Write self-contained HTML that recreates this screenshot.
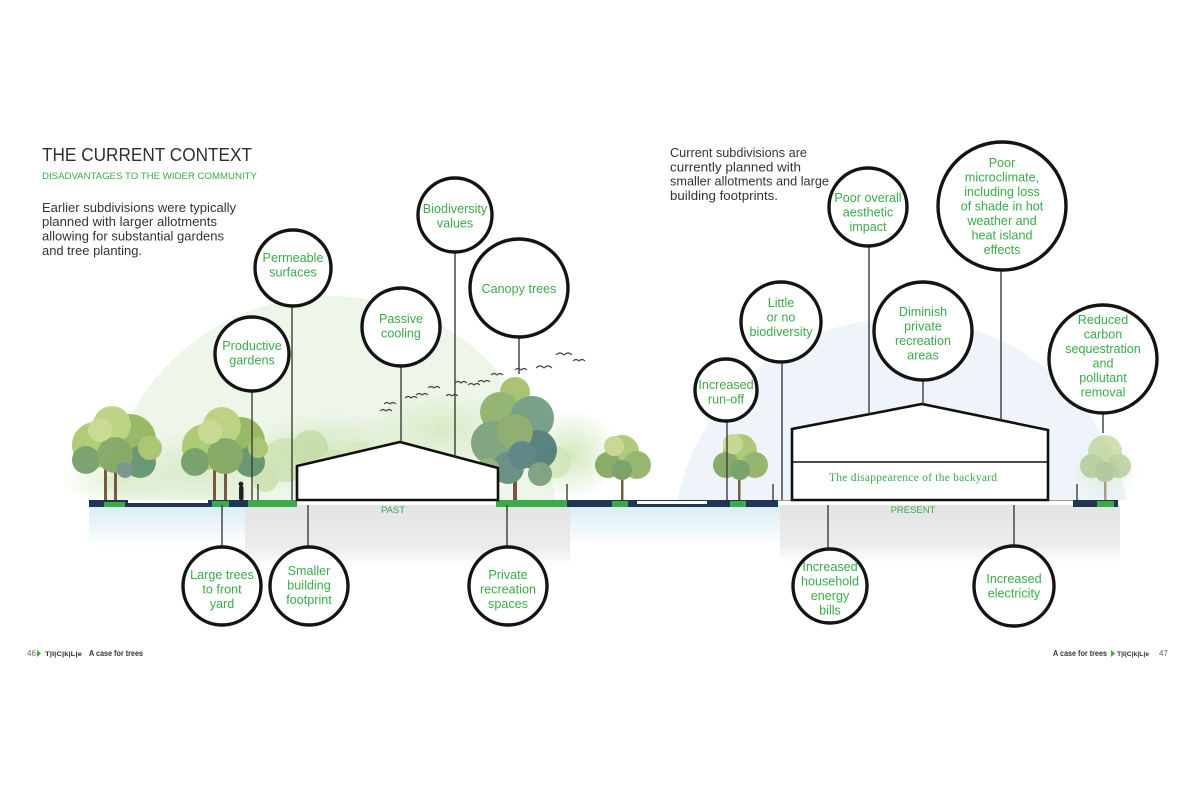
<!DOCTYPE html>
<html><head><meta charset="utf-8"><style>
html,body{margin:0;padding:0;background:#fff;}
svg{display:block;}
.c{fill:#fff;stroke:#141414;stroke-width:3.4;}
.t{font-family:"Liberation Sans",sans-serif;font-size:12.6px;fill:#3aab48;text-anchor:middle;}
.ln{stroke:#3c3c3c;stroke-width:1.4;}
.p{font-family:"Liberation Sans",sans-serif;font-size:12.8px;fill:#333;}
.bird{fill:none;stroke:#444;stroke-width:1.1;}
</style></head><body>
<svg width="1200" height="800" viewBox="0 0 1200 800" xmlns="http://www.w3.org/2000/svg">
<defs>
<linearGradient id="gb" x1="0" y1="0" x2="0" y2="1"><stop offset="0" stop-color="#d9ecf5"/><stop offset="1" stop-color="#d9ecf5" stop-opacity="0"/></linearGradient>
<linearGradient id="gg" x1="0" y1="0" x2="0" y2="1"><stop offset="0" stop-color="#e4e4e4"/><stop offset="0.7" stop-color="#ececec"/><stop offset="1" stop-color="#f2f2f2" stop-opacity="0"/></linearGradient>
<radialGradient id="gw" cx="0.5" cy="0.5" r="0.5"><stop offset="0" stop-color="#d3e8be"/><stop offset="1" stop-color="#d3e8be" stop-opacity="0"/></radialGradient>
<clipPath id="above"><rect x="0" y="0" width="1200" height="500"/></clipPath>
</defs>
<rect width="1200" height="800" fill="#fff"/>

<!-- background washes -->
<g clip-path="url(#above)">
<circle cx="330" cy="522" r="226" fill="#eef6ea"/>
<circle cx="902" cy="548" r="230" fill="#eef4fa"/>
<ellipse cx="200" cy="470" rx="90" ry="40" fill="url(#gw)" opacity="0.8"/>
<ellipse cx="330" cy="455" rx="90" ry="45" fill="url(#gw)"/>
<ellipse cx="440" cy="430" rx="80" ry="40" fill="url(#gw)" opacity="0.8"/>
<ellipse cx="570" cy="455" rx="50" ry="45" fill="url(#gw)"/>
<ellipse cx="120" cy="480" rx="60" ry="25" fill="url(#gw)" opacity="0.7"/>
<ellipse cx="1105" cy="470" rx="35" ry="35" fill="url(#gw)" opacity="0.5"/>
</g>

<!-- below ground -->
<rect x="89" y="505" width="160" height="42" fill="url(#gb)"/>
<rect x="245" y="505" width="325" height="62" fill="url(#gg)"/>
<rect x="570" y="505" width="210" height="40" fill="url(#gb)"/>
<rect x="780" y="505" width="340" height="58" fill="url(#gg)"/>

<!-- background light trees -->
<g opacity="0.7">
<circle cx="285" cy="460" r="22" fill="#c9dfae"/><circle cx="310" cy="448" r="18" fill="#bfd8a0"/><circle cx="335" cy="470" r="20" fill="#cfe3b8"/>
<circle cx="555" cy="462" r="16" fill="#cfe3b8"/><circle cx="360" cy="455" r="14" fill="#d5e8c0"/><circle cx="265" cy="478" r="14" fill="#c6dda8"/>
</g>

<!-- tree 1 -->
<g opacity="0.9">
<rect x="104" y="455" width="3" height="45" fill="#6b4a2f"/><rect x="114" y="458" width="3" height="42" fill="#6b4a2f"/>
<circle cx="95" cy="445" r="23" fill="#a9c76a"/><circle cx="130" cy="440" r="26" fill="#8fb45a"/>
<circle cx="112" cy="425" r="19" fill="#b8cf78"/><circle cx="86" cy="460" r="14" fill="#6f9a62"/>
<circle cx="140" cy="462" r="16" fill="#5f8f6a"/><circle cx="115" cy="455" r="18" fill="#7ea35c"/>
<circle cx="150" cy="448" r="12" fill="#a6c26a"/><circle cx="100" cy="430" r="12" fill="#c4d88a"/>
<circle cx="125" cy="470" r="8" fill="#6e8f8a"/>
</g>
<!-- tree 2 -->
<g opacity="0.9">
<rect x="213" y="455" width="3" height="45" fill="#6b4a2f"/><rect x="224" y="458" width="3" height="42" fill="#6b4a2f"/>
<circle cx="205" cy="447" r="23" fill="#a9c76a"/><circle cx="240" cy="442" r="25" fill="#8fb45a"/>
<circle cx="222" cy="426" r="19" fill="#b8cf78"/><circle cx="195" cy="462" r="14" fill="#6f9a62"/>
<circle cx="250" cy="462" r="15" fill="#5f8f6a"/><circle cx="225" cy="456" r="18" fill="#7ea35c"/>
<circle cx="258" cy="448" r="10" fill="#a6c26a"/><circle cx="210" cy="432" r="12" fill="#c4d88a"/>
</g>
<!-- person -->
<circle cx="241" cy="484" r="2.4" fill="#222"/><rect x="239" y="486" width="4.5" height="14" rx="1.5" fill="#222"/>

<!-- tall tree -->
<g opacity="0.92">
<rect x="513" y="455" width="4" height="45" fill="#6b4a2f"/>
<circle cx="515" cy="392" r="15" fill="#a3bf6a"/><circle cx="500" cy="412" r="20" fill="#8db06a"/>
<circle cx="532" cy="418" r="22" fill="#6f9a80"/><circle cx="493" cy="443" r="22" fill="#7aa07a"/>
<circle cx="537" cy="450" r="20" fill="#4e7a78"/><circle cx="515" cy="432" r="18" fill="#8aa86a"/>
<circle cx="508" cy="468" r="16" fill="#5f8a7e"/><circle cx="540" cy="474" r="12" fill="#7a9e7a"/>
<circle cx="488" cy="470" r="12" fill="#8bb070"/><circle cx="522" cy="455" r="14" fill="#557f80"/>
</g>
<!-- tree 622 -->
<g opacity="0.9">
<rect x="621" y="468" width="2.5" height="32" fill="#6b4a2f"/>
<circle cx="622" cy="452" r="17" fill="#a8c46c"/><circle cx="608" cy="465" r="13" fill="#7fa55c"/>
<circle cx="637" cy="465" r="14" fill="#8db062"/><circle cx="622" cy="470" r="10" fill="#6e9a5c"/>
<circle cx="614" cy="446" r="10" fill="#c2d68a"/>
</g>
<!-- tree 740 -->
<g opacity="0.9">
<rect x="738" y="468" width="2.5" height="32" fill="#6b4a2f"/>
<circle cx="740" cy="451" r="17" fill="#a8c46c"/><circle cx="726" cy="465" r="13" fill="#7fa55c"/>
<circle cx="755" cy="465" r="13" fill="#8db062"/><circle cx="740" cy="470" r="10" fill="#6e9a5c"/>
<circle cx="733" cy="444" r="10" fill="#c2d68a"/>
</g>
<!-- tree 1105 -->
<g opacity="0.5">
<rect x="1104" y="470" width="2.5" height="30" fill="#6b4a2f"/>
<circle cx="1105" cy="452" r="17" fill="#a8c46c"/><circle cx="1092" cy="466" r="12" fill="#8db062"/>
<circle cx="1119" cy="466" r="12" fill="#8db062"/><circle cx="1105" cy="472" r="10" fill="#7fa55c"/>
</g>

<!-- birds -->
<g class="bird">
<path d="M380 411 q3 -3 6 0 q3 -3 6 0"/><path d="M384 404 q3 -3 6 0 q3 -3 6 0"/>
<path d="M405 398 q3 -3 6 0 q3 -3 6 0"/><path d="M416 395 q3 -3 6 0 q3 -3 6 0"/>
<path d="M428 388 q3 -3 6 0 q3 -3 6 0"/><path d="M446 396 q3 -3 6 0 q3 -3 6 0"/>
<path d="M455 383 q3 -3 6 0 q3 -3 6 0"/><path d="M468 385 q3 -3 6 0 q3 -3 6 0"/>
<path d="M478 382 q3 -3 6 0 q3 -3 6 0"/><path d="M491 375 q3 -3 6 0 q3 -3 6 0"/>
<path d="M515 370 q3 -3 6 0 q3 -3 6 0"/><path d="M536 368 q4 -4 8 0 q4 -4 8 0"/>
<path d="M556 355 q4 -4 8 0 q4 -4 8 0"/><path d="M573 361 q3 -3 6 0 q3 -3 6 0"/>
</g>

<!-- ground -->
<rect x="89" y="500" width="39" height="7" fill="#1f3654"/>
<rect x="128" y="503" width="80" height="4" fill="#1f3654"/>
<rect x="208" y="500" width="40" height="7" fill="#1f3654"/>
<rect x="104" y="502" width="21" height="5" fill="#3aab48"/>
<rect x="212" y="501" width="17" height="6" fill="#3aab48"/>
<rect x="248" y="500" width="49" height="7" fill="#3aab48"/>
<rect x="496" y="500" width="71" height="7" fill="#3aab48"/>
<rect x="567" y="500" width="211" height="7" fill="#1f3654"/>
<rect x="612" y="501" width="16" height="6" fill="#3aab48"/>
<rect x="730" y="501" width="16" height="6" fill="#3aab48"/>
<rect x="637" y="501" width="70" height="3" fill="#fff"/>
<rect x="1073" y="500" width="45" height="7" fill="#1f3654"/>
<rect x="1097" y="501" width="17" height="6" fill="#3aab48"/>
<line x1="778" y1="500.5" x2="1073" y2="500.5" stroke="#999" stroke-width="1"/>
<g class="ln">
<line x1="258" y1="484" x2="258" y2="500"/><line x1="567" y1="484" x2="567" y2="500"/>
<line x1="773" y1="484" x2="773" y2="500"/><line x1="1077" y1="484" x2="1077" y2="500"/>
</g>

<!-- houses -->
<polygon points="297,500 297,466 400,442 498,468 498,500" fill="#fff" stroke="#111" stroke-width="2.6"/>
<polygon points="792,500 792,429 922,404 1048,430 1048,500" fill="#fff" stroke="#111" stroke-width="2.6"/>
<line x1="792" y1="462" x2="1048" y2="462" stroke="#111" stroke-width="1.6"/>
<text x="913" y="481" font-family="'Liberation Serif',serif" font-size="11.5" fill="#3aab48" text-anchor="middle" textLength="168">The disappearence of the backyard</text>
<text x="393" y="513" font-family="'Liberation Sans',sans-serif" font-size="9.5" fill="#3aab48" text-anchor="middle">PAST</text>
<text x="913" y="513" font-family="'Liberation Sans',sans-serif" font-size="9.5" fill="#3aab48" text-anchor="middle">PRESENT</text>

<!-- connector lines -->
<g class="ln">
<line x1="252" y1="391" x2="252" y2="500"/>
<line x1="292" y1="306" x2="292" y2="500"/>
<line x1="401" y1="366" x2="401" y2="442"/>
<line x1="455" y1="252" x2="455" y2="457"/>
<line x1="519" y1="337" x2="519" y2="374"/>
<line x1="222" y1="505" x2="222" y2="547"/>
<line x1="308" y1="505" x2="308" y2="547"/>
<line x1="507" y1="505" x2="507" y2="547"/>
<line x1="727" y1="420" x2="727" y2="500"/>
<line x1="782" y1="362" x2="782" y2="500"/>
<line x1="869" y1="246" x2="869" y2="414"/>
<line x1="923" y1="379" x2="923" y2="404"/>
<line x1="1001" y1="269" x2="1001" y2="420"/>
<line x1="1103" y1="413" x2="1103" y2="433"/>
<line x1="828" y1="505" x2="828" y2="550"/>
<line x1="1014" y1="505" x2="1014" y2="546"/>
</g>

<!-- circles -->
<circle class="c" cx="252" cy="354" r="37"/>
<text class="t"><tspan x="252" y="350">Productive</tspan><tspan x="252" y="364.5">gardens</tspan></text>
<circle class="c" cx="293" cy="268" r="38"/>
<text class="t"><tspan x="293" y="262">Permeable</tspan><tspan x="293" y="276.5">surfaces</tspan></text>
<circle class="c" cx="401" cy="327" r="39"/>
<text class="t"><tspan x="401" y="323">Passive</tspan><tspan x="401" y="337.5">cooling</tspan></text>
<circle class="c" cx="455" cy="215" r="37"/>
<text class="t"><tspan x="455" y="213">Biodiversity</tspan><tspan x="455" y="227.5">values</tspan></text>
<circle class="c" cx="519" cy="288" r="49"/>
<text class="t" x="519" y="293">Canopy trees</text>

<circle class="c" cx="222" cy="586" r="39"/>
<text class="t"><tspan x="222" y="579">Large trees</tspan><tspan x="222" y="593.5">to front</tspan><tspan x="222" y="608">yard</tspan></text>
<circle class="c" cx="309" cy="586" r="39"/>
<text class="t"><tspan x="309" y="575">Smaller</tspan><tspan x="309" y="589.5">building</tspan><tspan x="309" y="604">footprint</tspan></text>
<circle class="c" cx="508" cy="586" r="39"/>
<text class="t"><tspan x="508" y="579">Private</tspan><tspan x="508" y="593.5">recreation</tspan><tspan x="508" y="608">spaces</tspan></text>

<circle class="c" cx="726" cy="390" r="31"/>
<text class="t"><tspan x="726" y="389">Increased</tspan><tspan x="726" y="403.5">run-off</tspan></text>
<circle class="c" cx="781" cy="322" r="40"/>
<text class="t"><tspan x="781" y="307">Little</tspan><tspan x="781" y="321.5">or no</tspan><tspan x="781" y="336">biodiversity</tspan></text>
<circle class="c" cx="868" cy="207" r="39"/>
<text class="t"><tspan x="868" y="202">Poor overall</tspan><tspan x="868" y="216.5">aesthetic</tspan><tspan x="868" y="231">impact</tspan></text>
<circle class="c" cx="923" cy="331" r="49"/>
<text class="t"><tspan x="923" y="316">Diminish</tspan><tspan x="923" y="330.5">private</tspan><tspan x="923" y="345">recreation</tspan><tspan x="923" y="359.5">areas</tspan></text>
<circle class="c" cx="1002" cy="206" r="64"/>
<text class="t"><tspan x="1002" y="167">Poor</tspan><tspan x="1002" y="181.5">microclimate,</tspan><tspan x="1002" y="196">including loss</tspan><tspan x="1002" y="210.5">of shade in hot</tspan><tspan x="1002" y="225">weather and</tspan><tspan x="1002" y="239.5">heat island</tspan><tspan x="1002" y="254">effects</tspan></text>
<circle class="c" cx="1103" cy="359" r="54"/>
<text class="t"><tspan x="1103" y="324">Reduced</tspan><tspan x="1103" y="338.5">carbon</tspan><tspan x="1103" y="353">sequestration</tspan><tspan x="1103" y="367.5">and</tspan><tspan x="1103" y="382">pollutant</tspan><tspan x="1103" y="396.5">removal</tspan></text>

<circle class="c" cx="830" cy="586" r="37"/>
<text class="t"><tspan x="830" y="571">Increased</tspan><tspan x="830" y="585.5">household</tspan><tspan x="830" y="600">energy</tspan><tspan x="830" y="614.5">bills</tspan></text>
<circle class="c" cx="1014" cy="586" r="40"/>
<text class="t"><tspan x="1014" y="583">Increased</tspan><tspan x="1014" y="597.5">electricity</tspan></text>

<!-- headings -->
<text x="42" y="161" font-family="'Liberation Sans',sans-serif" font-size="18.5" fill="#2e2e2e" textLength="210" lengthAdjust="spacingAndGlyphs">THE CURRENT CONTEXT</text>
<text x="42" y="179" font-family="'Liberation Sans',sans-serif" font-size="9.6" fill="#3aab48" textLength="215" lengthAdjust="spacingAndGlyphs">DISADVANTAGES TO THE WIDER COMMUNITY</text>
<text class="p" x="42" y="212" textLength="194" lengthAdjust="spacingAndGlyphs">Earlier subdivisions were typically</text>
<text class="p" x="42" y="226" textLength="175" lengthAdjust="spacingAndGlyphs">planned with larger allotments</text>
<text class="p" x="42" y="240.5" textLength="182" lengthAdjust="spacingAndGlyphs">allowing for substantial gardens</text>
<text class="p" x="42" y="255" textLength="100" lengthAdjust="spacingAndGlyphs">and tree planting.</text>

<text class="p" x="670" y="157" textLength="137" lengthAdjust="spacingAndGlyphs">Current subdivisions are</text>
<text class="p" x="670" y="171.5" textLength="131" lengthAdjust="spacingAndGlyphs">currently planned with</text>
<text class="p" x="670" y="185.5" textLength="159" lengthAdjust="spacingAndGlyphs">smaller allotments and large</text>
<text class="p" x="670" y="200" textLength="108" lengthAdjust="spacingAndGlyphs">building footprints.</text>

<!-- footer -->
<g font-family="'Liberation Sans',sans-serif">
<text x="27" y="656" font-size="8" fill="#666">46</text>
<polygon points="37,650 41,653.5 37,657" fill="#3aab48"/>
<text x="45" y="656" font-size="6" font-weight="bold" fill="#333" textLength="37" lengthAdjust="spacingAndGlyphs">T|I|C|k|L|e</text>
<text x="89" y="656" font-size="8.4" font-weight="bold" fill="#333" textLength="54" lengthAdjust="spacingAndGlyphs">A case for trees</text>
<text x="1053" y="656" font-size="8.4" font-weight="bold" fill="#333" textLength="54" lengthAdjust="spacingAndGlyphs">A case for trees</text>
<polygon points="1111,650 1115,653.5 1111,657" fill="#3aab48"/>
<text x="1117" y="656" font-size="6" font-weight="bold" fill="#333" textLength="32" lengthAdjust="spacingAndGlyphs">T|I|C|k|L|e</text>
<text x="1159" y="656" font-size="8" fill="#666">47</text>
</g>
</svg>
</body></html>
